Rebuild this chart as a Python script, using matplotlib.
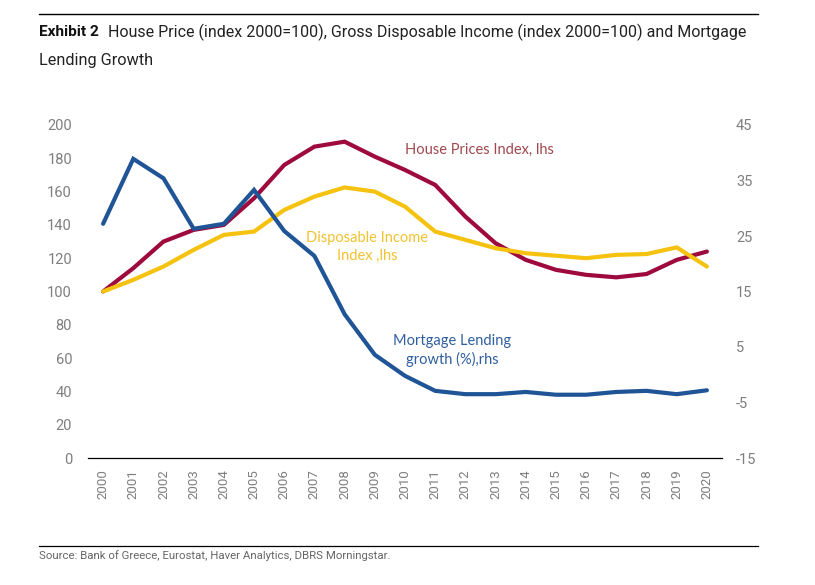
import matplotlib
matplotlib.use("Agg")
import matplotlib.pyplot as plt
import numpy as np

years = list(range(2000, 2021))
house = [100, 114, 130, 137, 140, 156, 176, 187, 190, 181, 173, 164, 145, 129, 119, 113, 110, 108.5, 110.5, 119, 124]
income = [100, 107, 115, 125, 134, 136, 149, 157, 162.5, 160, 151, 136, 131, 126, 123, 121.5, 120, 122, 122.5, 126.5, 115]
mortgage = [27.2, 38.9, 35.4, 26.3, 27.2, 33.3, 25.9, 21.4, 10.9, 3.6, -0.2, -2.9, -3.5, -3.5, -3.1, -3.6, -3.6, -3.1, -2.9, -3.5, -2.8]
left_ticks = list(range(0, 201, 20))
right_ticks = list(range(-15, 46, 10))

W, H = 815, 585
NARROW = ["Roboto", "DejaVu Sans"]
LABEL = ["Lato", "DejaVu Sans"]
RED, GOLD, BLUE = "#9e0a3d", "#f5c20f", "#1f5496"
GREY = "#7f7f7f"
plt.rcParams["axes.unicode_minus"] = False


def fx(p):
    return p / W


def fy(p):
    return 1 - p / H


fig = plt.figure(figsize=(W / 100, H / 100), dpi=100, facecolor="white")
ax = fig.add_axes([fx(88), fy(458), (722 - 88) / W, (458 - 125) / H])
x = np.arange(len(years))
ax.plot(x, house, color=RED, lw=3.0, solid_capstyle="round", solid_joinstyle="miter", zorder=3)
ax.plot(x, income, color=GOLD, lw=3.0, solid_capstyle="round", solid_joinstyle="miter", zorder=4)
ax.set_xlim(-0.5, 20.5)
ax.set_ylim(0, 200)
ax.set_yticks(left_ticks)
ax.set_xticks(x)
ax.set_xticklabels(years, rotation=90, fontsize=9.5, color=GREY, family=NARROW)
ax.tick_params(axis="x", length=0, pad=8)
ax.tick_params(axis="y", length=0, pad=11.5, labelsize=10.5, labelcolor=GREY)
for t in ax.get_yticklabels():
    t.set_family(NARROW)
for s in ["top", "left", "right"]:
    ax.spines[s].set_visible(False)
ax.spines["bottom"].set_linewidth(0.9)
ax.spines["bottom"].set_color("black")

ax2 = ax.twinx()
ax2.plot(x, mortgage, color=BLUE, lw=3.0, solid_capstyle="round", solid_joinstyle="miter", zorder=5)
ax2.set_ylim(-15, 45)
ax2.set_yticks(right_ticks)
ax2.tick_params(axis="y", length=0, pad=10, labelsize=10.5, labelcolor=GREY)
for t in ax2.get_yticklabels():
    t.set_family(NARROW)
for s in ["top", "left", "right", "bottom"]:
    ax2.spines[s].set_visible(False)

# series labels sit inside the plot, in the series colour
fig.text(fx(405), fy(150), "House Prices Index, lhs", color="#a0484f", fontsize=10.5, family=LABEL, va="center")
fig.text(fx(367), fy(238), "Disposable Income", color="#f2c230", fontsize=10.5, family=LABEL, va="center", ha="center")
fig.text(fx(367), fy(256), "Index ,lhs", color="#f2c230", fontsize=10.5, family=LABEL, va="center", ha="center")
fig.text(fx(452), fy(341), "Mortgage Lending", color="#2f5f9e", fontsize=10.5, family=LABEL, va="center", ha="center")
fig.text(fx(452), fy(359), "growth (%),rhs", color="#2f5f9e", fontsize=10.5, family=LABEL, va="center", ha="center")

# header and footer
fig.add_artist(plt.Line2D([fx(39), fx(758)], [fy(13.5), fy(13.5)], color="black", lw=1))
fig.add_artist(plt.Line2D([fx(39), fx(758)], [fy(546), fy(546)], color="black", lw=0.9))
fig.text(fx(39), fy(32), "Exhibit 2", fontsize=11.1, fontweight="bold", family=NARROW, color="#111111", va="center")
fig.text(fx(108), fy(32), "House Price (index 2000=100), Gross Disposable Income (index 2000=100) and Mortgage",
         fontsize=11.55, family=NARROW, color="#222222", va="center")
fig.text(fx(39), fy(60.5), "Lending Growth", fontsize=11.7, family=NARROW, color="#222222", va="center")
fig.text(fx(39), fy(556), "Source: Bank of Greece, Eurostat, Haver Analytics, DBRS Morningstar.",
         fontsize=8.2, family=NARROW, color="#666666", va="center")

fig.savefig("out.png", dpi=100)
